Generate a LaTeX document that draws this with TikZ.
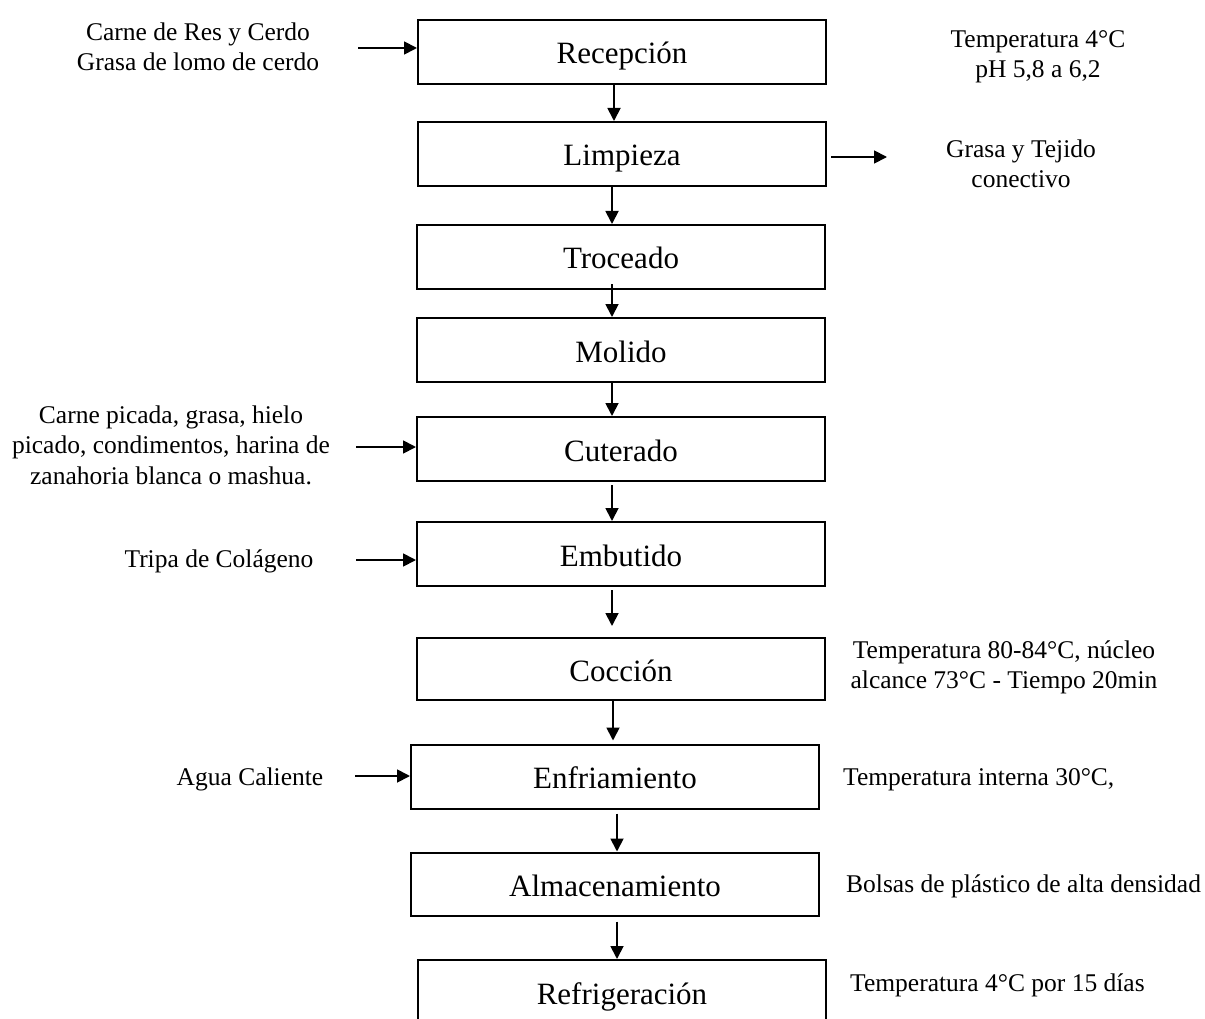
\documentclass[tikz,border=0pt]{standalone}
\usepackage{fontspec}
\setmainfont{Liberation Serif}
\usetikzlibrary{arrows.meta}

\begin{document}
\begin{tikzpicture}[x=1pt,y=-1pt,
        paso/.style={draw,line width=2pt,minimum width=408pt,minimum height=64pt,inner sep=0pt,text height=30pt,text depth=6pt,font=\fontsize{31}{36}\selectfont},
        nota/.style={font=\fontsize{25.5}{30.5}\selectfont,align=center,inner sep=0pt},
        flecha/.style={line width=1.8pt,-{Triangle[length=13pt,width=13pt]}}]
        \useasboundingbox (0,0) rectangle (1205,1019);
        \clip (0,0) rectangle (1205,1019);
        
        % Etapas del proceso
        \node[paso] (recep) at (622,52) {Recepción};
        \node[paso] (limp) at (622,154) {Limpieza};
        \node[paso] (troc) at (621,257) {Troceado};
        \node[paso] (mol) at (621,350) {Molido};
        \node[paso] (cut) at (621,449) {Cuterado};
        \node[paso] (emb) at (621,554) {Embutido};
        \node[paso,minimum height=62pt] (cocc) at (621,669) {Cocción};
        \node[paso] (enfr) at (615,776.5) {Enfriamiento};
        \node[paso,minimum height=63pt] (alm) at (615,884) {Almacenamiento};
        \node[paso] (refr) at (622,992) {Refrigeración};
        
        \draw[flecha] ([xshift=-8]recep.south) -- ([xshift=-8]recep.south |- limp.north);
        \draw[flecha] ([xshift=-10]limp.south) -- ([xshift=-10]limp.south |- troc.north);
        \draw[flecha,shorten <=-6pt] ([xshift=-9]troc.south) -- ([xshift=-9]troc.south |- mol.north);
        \draw[flecha] ([xshift=-9]mol.south) -- ([xshift=-9]mol.south |- cut.north);
        \draw[flecha,shorten <=3pt] ([xshift=-9]cut.south) -- ([xshift=-9]cut.south |- emb.north);
        \draw[flecha,shorten <=3pt,shorten >=11pt] ([xshift=-9]emb.south) -- ([xshift=-9]emb.south |- cocc.north);
        \draw[flecha,shorten >=3pt] ([xshift=-8]cocc.south) -- ([xshift=-8]cocc.south |- enfr.north);
        \draw[flecha,shorten <=4pt] ([xshift=2]enfr.south) -- ([xshift=2]enfr.south |- alm.north);
        \draw[flecha,shorten <=5pt] ([xshift=2]alm.south) -- ([xshift=2]alm.south |- refr.north);
        
        % Entradas
        \node[nota] (ent1) at (198,47) {Carne de Res y Cerdo\\Grasa de lomo de cerdo};
        \node[nota] (ent2) at (171,445) {Carne picada, grasa, hielo\\picado, condimentos, harina de\\zanahoria blanca o mashua.};
        \node[nota] (ent3) at (219,561) {Tripa de Colágeno};
        \node[nota] (ent4) at (250,779) {Agua Caliente};
        
        \coordinate (e1) at (358,48);
        \coordinate (e2) at (356,447);
        \coordinate (e3) at (356,560);
        \coordinate (e4) at (355,776);
        \draw[flecha] (e1) -- (e1 -| recep.west);
        \draw[flecha] (e2) -- (e2 -| cut.west);
        \draw[flecha] (e3) -- (e3 -| emb.west);
        \draw[flecha] (e4) -- (e4 -| enfr.west);
        
        % Salida y condiciones
        \coordinate (s1) at (887,157);
        \draw[flecha,shorten <=4pt] (limp.east |- s1) -- (s1);
        \node[nota] (sal1) at (1021,164) {Grasa y Tejido\\conectivo};
        
        \node[nota] (cond1) at (1038,56.5) {Temperatura 4°C\\pH 5,8 a 6,2};
        \node[nota] (cond2) at (1004,667.5) {Temperatura 80-84°C, núcleo\\alcance 73°C - Tiempo 20min};
        \node[nota,anchor=west] (cond3) at (843,779.5) {Temperatura interna 30°C,};
        \node[nota,anchor=west] (cond4) at (846,886) {Bolsas de plástico de alta densidad};
        \node[nota,anchor=west] (cond5) at (850,985) {Temperatura 4°C por 15 días};
    \end{tikzpicture}
\end{document}
